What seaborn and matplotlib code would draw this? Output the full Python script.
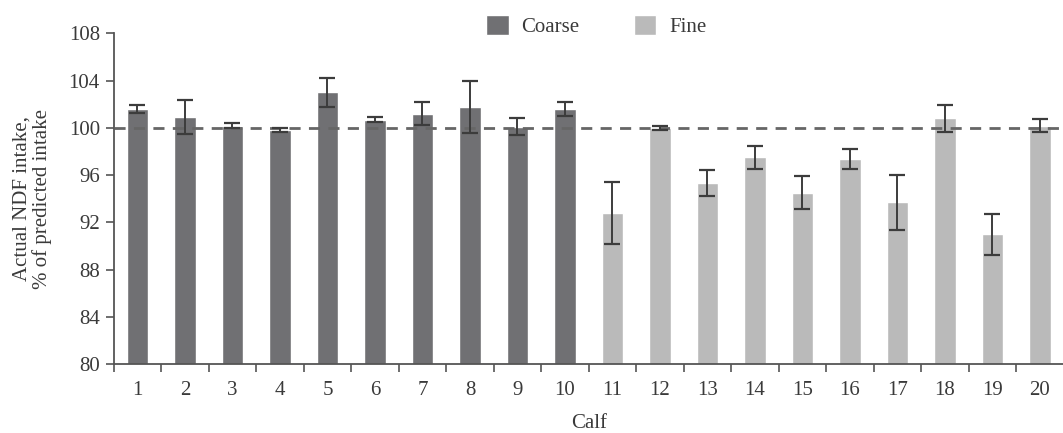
import numpy as np
import pandas as pd
import matplotlib
matplotlib.use("Agg")
import matplotlib.pyplot as plt
import seaborn as sns
from matplotlib.patches import Patch
from matplotlib.ticker import FixedLocator

calves = [str(i) for i in range(1, 21)]
groups = ["Coarse"] * 10 + ["Fine"] * 10
values = [101.6, 100.9, 100.2, 99.8, 103.0, 100.7, 101.2, 101.8, 100.1, 101.6,
          92.8, 100.0, 95.3, 97.5, 94.5, 97.4, 93.7, 100.8, 91.0, 100.2]
errors = [0.35, 1.45, 0.2, 0.15, 1.2, 0.2, 0.95, 2.2, 0.7, 0.6,
          2.6, 0.2, 1.1, 1.0, 1.4, 0.85, 2.3, 1.15, 1.75, 0.55]
yticks = [80, 84, 88, 92, 96, 100, 104, 108]

df = pd.DataFrame({"Calf": calves, "Value": values, "Group": groups})

sns.set_style("white")
plt.rcParams["font.family"] = ["Liberation Serif", "DejaVu Serif"]
text_color = "#3a3a3a"
plt.rcParams["text.color"] = text_color
plt.rcParams["axes.labelcolor"] = text_color
plt.rcParams["xtick.color"] = "#555555"
plt.rcParams["ytick.color"] = "#555555"

FS = 15
palette = {"Coarse": "#707073", "Fine": "#bababa"}

fig = plt.figure(figsize=(10.63, 4.33), dpi=100)
ax = fig.add_axes([113.7 / 1063, (433 - 364.3) / 433, 950 / 1063, (364.3 - 33.3) / 433])

sns.barplot(data=df, x="Calf", y="Value", hue="Group", palette=palette,
            dodge=False, width=0.45, ax=ax, legend=False, errorbar=None,
            saturation=1)

ax.errorbar(np.arange(len(values)), values, yerr=errors, fmt="none",
            ecolor="#3c3c3c", elinewidth=1.4, capsize=5.5, capthick=1.6)

ax.axhline(100, color="#666666", lw=2.0, ls=(0, (4, 3)), zorder=1.5)

ax.set_ylim(80, 108)
ax.set_xlim(-0.5, 19.5)
ax.set_yticks(yticks)
ax.set_yticklabels([str(t) for t in yticks], fontsize=FS, color=text_color)
ax.set_xticks(range(20))
ax.set_xticklabels(calves, fontsize=FS, color=text_color)
ax.xaxis.set_minor_locator(FixedLocator(np.arange(-0.5, 20, 1)))
ax.tick_params(axis="x", which="major", length=0, pad=12)
ax.tick_params(axis="x", which="minor", length=6, width=1.2, direction="out", bottom=True)
ax.tick_params(axis="y", which="major", length=6, width=1.2, direction="out", left=True, pad=4)

for s in ["top", "right"]:
    ax.spines[s].set_visible(False)
for s in ["left", "bottom"]:
    ax.spines[s].set_color("#555555")
    ax.spines[s].set_linewidth(1.3)

ax.set_xlabel("Calf", fontsize=FS, labelpad=10)
ax.set_ylabel("Actual NDF intake,\n% of predicted intake", fontsize=FS, labelpad=12, linespacing=1.05)

handles = [Patch(facecolor=palette["Coarse"], label="Coarse"),
           Patch(facecolor=palette["Fine"], label="Fine")]
fig.legend(handles=handles, loc="center", bbox_to_anchor=(596 / 1063, 1 - 26 / 433),
           ncol=2, frameon=False, fontsize=FS, handlelength=1.1, handleheight=1.1,
           handletextpad=0.6, columnspacing=2.6)

fig.savefig("out.png", dpi=100)
